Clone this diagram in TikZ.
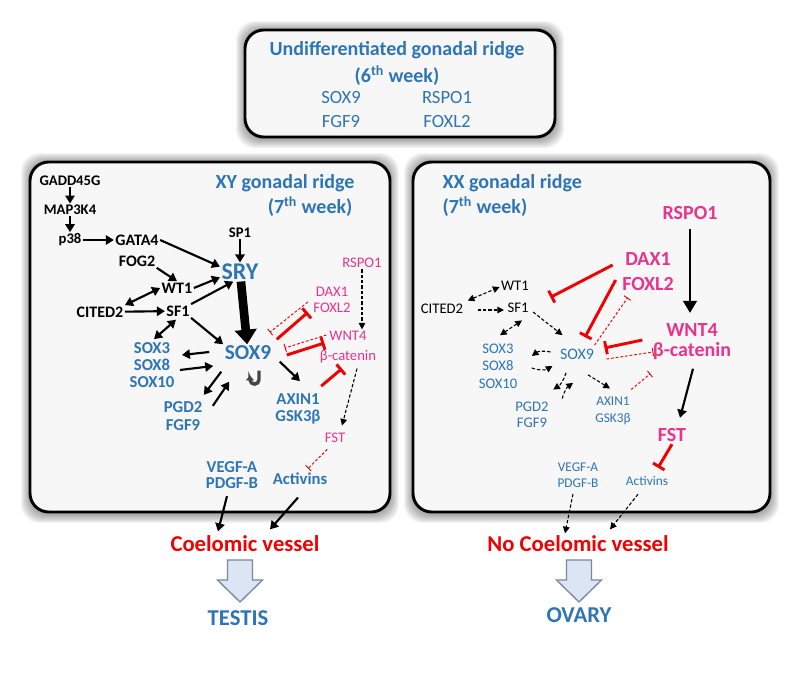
\documentclass[tikz,border=0pt]{standalone}
\usepackage{fontspec}
\setmainfont{Carlito}
\usepackage{tikz}
\usetikzlibrary{arrows.meta,positioning,calc}

\definecolor{ttblue}{RGB}{46,117,182}
\definecolor{gpink}{RGB}{233,51,140}
\definecolor{inred}{RGB}{240,0,0}
\definecolor{boxgray}{RGB}{247,247,247}
\definecolor{arrfill}{RGB}{219,229,243}
\definecolor{arredge}{RGB}{120,136,160}

\begin{document}
\begin{tikzpicture}[x=0.75pt,y=-0.75pt,inner sep=1pt,
  panel/.style={draw=black,line width=2.2pt,fill=boxgray,rounded corners=14pt},
  ttl/.style={text=ttblue,font=\fontsize{15}{18}\selectfont\bfseries},
  gene/.style={text=ttblue,font=\fontsize{14}{16}\selectfont},
  kb/.style={font=\fontsize{11}{13}\selectfont\bfseries},
  kbb/.style={font=\fontsize{12}{14}\selectfont\bfseries},
  bb/.style={text=ttblue,align=center,font=\fontsize{12.5}{12.75}\selectfont\bfseries},
  pk/.style={text=gpink,align=center,font=\fontsize{11}{12}\selectfont},
  pkb/.style={text=gpink,align=center,font=\fontsize{15}{18.75}\selectfont\bfseries},
  kr/.style={font=\fontsize{11}{13}\selectfont},
  br/.style={text=ttblue,align=center,font=\fontsize{11}{13}\selectfont},
  outc/.style={text=inred,font=\fontsize{17}{20}\selectfont\bfseries},
  organ/.style={text=ttblue,font=\fontsize{17}{20}\selectfont\bfseries},
  fat/.style={draw=arredge,fill=arrfill,line width=1pt,line join=miter},
  act/.style={-{Triangle[width=7pt,length=6pt]},line width=1.6pt},
  bact/.style={{Triangle[width=7pt,length=6pt]}-{Triangle[width=7pt,length=6pt]},line width=1.6pt},
  mainact/.style={-{Triangle[width=16pt,length=11pt]},line width=6.5pt},
  rspoact/.style={-{Triangle[width=10pt,length=9pt]},line width=2.2pt},
  dact/.style={-{Triangle[width=5pt,length=5pt]},line width=0.8pt,dash pattern=on 2.5pt off 1.5pt},
  dbact/.style={{Triangle[width=5pt,length=5pt]}-{Triangle[width=5pt,length=5pt]},line width=0.8pt,dash pattern=on 2.5pt off 1.5pt},
  inh/.style={-{Bar[width=10pt]},draw=inred,line width=2.2pt},
  dinh/.style={-{Bar[width=6pt]},draw=inred,line width=0.7pt,dash pattern=on 2pt off 1.5pt},
]
\useasboundingbox (0,0) rectangle (800,674);

% panels with soft shadow
\foreach \xa/\ya/\xb/\yb in {245/30/555/137, 30/162/390/512, 413/162/770/512}{
  \foreach \k in {1,...,9}
    \fill[black,opacity=0.045,rounded corners=14pt] (\xa-\k,\ya-\k) rectangle (\xb+\k,\yb+\k+2);
  \draw[panel] (\xa,\ya) rectangle (\xb,\yb);
}

% undifferentiated ridge
\node[ttl] (top1) at (397,50) {Undifferentiated gonadal ridge};
\node[ttl] (top2) at (397,76) {(6\textsuperscript{th} week)};
\node[gene] (uSox) at (341,98) {SOX9};
\node[gene] (uRspo) at (447,98) {RSPO1};
\node[gene] (uFgf) at (341,122) {FGF9};
\node[gene] (uFox) at (447,122) {FOXL2};

% XY ridge
\node[ttl,anchor=east] (xy1) at (356,183) {XY gonadal ridge};
\node[ttl,anchor=east] (xy2) at (354,207) {(7\textsuperscript{th} week)};
\node[kb] (gadd) at (70,181) {GADD45G};
\node[kb] (map) at (70,210) {MAP3K4};
\node[kb] (p38) at (70,240) {p38};
\node[kbb] (gata) at (137,240) {GATA4};
\node[kbb] (fog) at (137,261) {FOG2};
\node[kbb] (wt1) at (177,288) {WT1};
\node[kbb] (cited) at (100,312) {CITED2};
\node[kbb] (sf1) at (178,311) {SF1};
\node[kb] (sp1) at (240,233) {SP1};
\node[text=ttblue,font=\fontsize{18}{20}\selectfont\bfseries] (sry) at (240,272) {SRY};
\node[text=ttblue,font=\fontsize{16}{18}\selectfont\bfseries] (sox9) at (248,353) {SOX9};
\node[bb] (sox) at (152,365) {SOX3\\SOX8\\SOX10};
\node[bb,font=\fontsize{12.5}{13.5}\selectfont\bfseries] (pgd) at (183,416) {PGD2\\FGF9};
\node[bb] (axin) at (298,409) {AXIN1\\GSK3β};
\node[pk] (rspo) at (362,263) {RSPO1};
\node[pk] (dax) at (332,300) {DAX1\\FOXL2};
\node[pk,font=\fontsize{11}{15}\selectfont] (wnt) at (348,347) {WNT4\\β-catenin};
\node[pk] (fst) at (335,438) {FST};
\node[bb,font=\fontsize{12.5}{12}\selectfont\bfseries] (vegf) at (232,475) {VEGF-A\\PDGF-B};
\node[bb] (activ) at (300,479) {Activins};
\node[outc] (coel) at (245,544) {Coelomic vessel};
\node[organ] (testis) at (238,618) {TESTIS};

\draw[act] (gadd) -- (map);
\draw[act] (map) -- (p38);
\draw[act] (p38) -- (gata);
\draw[act] (gata.east) -- (sry.165);
\draw[act] (fog.south east) -- (wt1.north);
\draw[bact] (cited.north east) -- (wt1.west);
\draw[act] (cited) -- (sf1);
\draw[bact,shorten <=2pt,shorten >=2pt] (sf1.south) -- (sox.north);
\draw[act] (sp1) -- (sry);
\draw[act] (wt1.east) -- (sry.195);
\draw[act] (sf1.north east) -- (sry.235);
\draw[mainact] (sry) -- (sox9);
\draw[act] (sf1.south east) -- (sox9.north west);
\draw[act] ($(sox9.west)+(-14,-1)$) -- ($(sox.east)+(6,-10)$);
\draw[act] ($(sox.east)+(4,5)$) -- ($(sox9.west)+(-10,13)$);
\draw[act] ($(sox9.south west)+(-2,10)$) -- ($(pgd.north east)+(0,-5)$);
\draw[act] ($(pgd.north east)+(9,6)$) -- ($(sox9.south west)+(6,20)$);
\draw[act] ($(sox9.south east)+(7,0)$) -- ($(axin.north)+(2,-11)$);
% autoregulation mark
\draw[line width=2.6pt,draw=gray!55!black,-{Triangle[width=6pt,length=3.5pt]}]
  ($(sox9.south)+(11,9)$) -- ++(0,9) arc[start angle=0,end angle=180,radius=4.5] -- ++(0,-4);
% antagonists
\draw[inh] ($(sox9.north east)+(4,-5)$) -- ($(dax.south west)+(-4,-2)$);
\draw[dinh] ($(dax.west)+(-4,2)$) -- ($(sox9.north east)+(-3,-12)$);
\draw[dinh] ($(wnt.west)+(8,-12)$) -- ($(sox9.east)+(12,-5)$);
\draw[inh] ($(sox9.east)+(14,2)$) -- ($(wnt.west)+(6,-4)$);
\draw[inh] ($(axin.north east)+(-1,-6)$) -- ($(wnt.south)+(-6,4)$);
\draw[dact] (rspo.south) -- (rspo.south |- wnt.north);
\draw[dact] ($(wnt.south)+(9,4)$) -- ($(fst.north)+(7,-6)$);
\draw[dinh] ($(fst.south west)+(4,5)$) -- ($(activ.north)+(8,-3)$);
\draw[act] ($(vegf.south)+(-5,6)$) -- ($(coel.north)+(-27,-3)$);
\draw[act] ($(activ.south)+(-2,11)$) -- ($(coel.north)+(25,-5)$);

% XX ridge
\node[ttl,anchor=west] (xx1) at (441,183) {XX gonadal ridge};
\node[ttl,anchor=west] (xx2) at (441,207) {(7\textsuperscript{th} week)};
\node[pkb] (rspoR) at (690,213) {RSPO1};
\node[pkb] (daxR) at (648,272) {DAX1\\FOXL2};
\node[pkb,font=\fontsize{15}{15}\selectfont\bfseries] (wntR) at (692,342) {WNT4\\β-catenin};
\node[pkb] (fstR) at (672,435) {FST};
\node[kr] (wt1R) at (515,286) {WT1};
\node[kr] (citedR) at (442,309) {CITED2};
\node[kr] (sf1R) at (518,308) {SF1};
\node[br] (soxR) at (498,366) {SOX3\\SOX8\\SOX10};
\node[br,font=\fontsize{12}{14}\selectfont] (sox9R) at (577,354) {SOX9};
\node[br,font=\fontsize{11}{12}\selectfont] (pgdR) at (532,415) {PGD2\\FGF9};
\node[br,font=\fontsize{10}{12.75}\selectfont] (axinR) at (613,411) {AXIN1\\GSK3β};
\node[br,font=\fontsize{10}{12}\selectfont] (vegfR) at (578,475) {VEGF-A\\PDGF-B};
\node[br,font=\fontsize{10}{12}\selectfont] (activR) at (647,481) {Activins};
\node[outc] (coelR) at (578,544) {No Coelomic vessel};
\node[organ] (ovary) at (579,615) {OVARY};

\draw[rspoact,shorten <=6pt,shorten >=7pt] (rspoR.south) -- (rspoR.south |- wntR.north);
\draw[act] ($(wntR.south)+(1,7)$) -- ($(fstR.north)+(8,-9)$);
\draw[inh] ($(fstR.south)+(0,1)$) -- ($(activR.north)+(11,-7)$);
\draw[inh] ($(daxR.west)+(-8,-7)$) -- ($(wt1R.south east)+(20,5)$);
\draw[inh] ($(daxR.west)+(-5,8)$) -- ($(sox9R.north)+(8,-10)$);
\draw[dinh] ($(sox9R.north east)+(-1,-2)$) -- ($(daxR.south west)+(7,5)$);
\draw[inh] ($(wntR.west)+(-9,-2)$) -- ($(sox9R.east)+(9,-6)$);
\draw[dinh] ($(sox9R.east)+(11,5)$) -- ($(wntR.west)+(2,10)$);
\draw[dinh] ($(axinR.north east)+(-1,-6)$) -- ($(wntR.south west)+(-1,12)$);
\draw[dbact] ($(citedR.north east)+(3,-2)$) -- ($(wt1R.west)+(0,1)$);
\draw[dact] ($(citedR.east)+(13,1)$) -- ($(sf1R.west)+(-2,2)$);
\draw[dact] ($(sf1R.east)+(3,4)$) -- ($(sox9R.north west)+(4,-12)$);
\draw[dbact] ($(sf1R.south)+(4,6)$) -- ($(soxR.north)+(2,-7)$);
\draw[dact] ($(sox9R.west)+(-8,-2)$) to[bend right=25] ($(soxR.east)+(13,-10)$);
\draw[dact] ($(soxR.east)+(13,2)$) to[bend right=25] ($(sox9R.west)+(-6,12)$);
\draw[dact] ($(sox9R.south)+(-11,12)$) to[bend left=20] ($(pgdR.north east)+(3,-11)$);
\draw[dact] ($(pgdR.north east)+(12,-2)$) to[bend left=20] ($(sox9R.south)+(-4,22)$);
\draw[dact] ($(sox9R.south)+(11,14)$) -- ($(axinR.north)+(-3,-7)$);
\draw[dact] ($(vegfR.south)+(-5,5)$) -- ($(coelR.north)+(-13,-1)$);
\draw[dact] ($(activR.south)+(-9,7)$) -- ($(coelR.north)+(32,-5)$);

% fate arrows
\foreach \cx in {240,579}
  \draw[fat] (\cx-12.5,560) -- (\cx+12.5,560) -- (\cx+12.5,580) -- (\cx+22.5,580)
    -- (\cx,602) -- (\cx-22.5,580) -- (\cx-12.5,580) -- cycle;
\end{tikzpicture}
\end{document}
